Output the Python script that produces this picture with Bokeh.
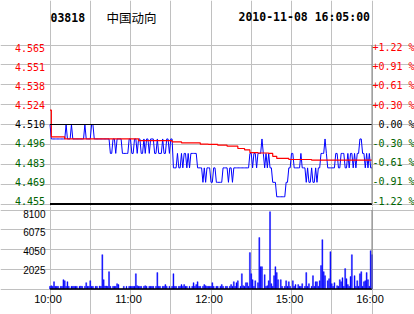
from bokeh.plotting import figure
from bokeh.models import Range1d, FixedTicker, ColumnDataSource, LabelSet, Label, Grid
from bokeh.core.properties import value, field
from bokeh.layouts import column
from bokeh.embed import file_html
from bokeh.resources import INLINE

# ---------------- data ----------------
stock_code = "03818"
stock_name = "中国动向"
stamp = "2010-11-08 16:05:00"
prev_close = 4.510

minutes = list(range(241))  # 10:00-12:30 and 14:30-16:00, one per minute

price = [
    4.51, 4.50, 4.50, 4.50, 4.50, 4.50, 4.50, 4.50, 4.50, 4.50,
    4.50, 4.50, 4.51, 4.50, 4.50, 4.50, 4.51, 4.50, 4.50, 4.50,
    4.50, 4.50, 4.50, 4.50, 4.50, 4.50, 4.51, 4.50, 4.50, 4.50,
    4.50, 4.51, 4.51, 4.50, 4.50, 4.50, 4.50, 4.50, 4.50, 4.50,
    4.50, 4.50, 4.50, 4.50, 4.50, 4.49, 4.49, 4.50, 4.50, 4.49,
    4.50, 4.50, 4.50, 4.50, 4.49, 4.49, 4.49, 4.49, 4.49, 4.50,
    4.50, 4.49, 4.49, 4.50, 4.50, 4.49, 4.50, 4.50, 4.49, 4.49,
    4.50, 4.49, 4.50, 4.50, 4.49, 4.50, 4.50, 4.50, 4.49, 4.49,
    4.50, 4.49, 4.49, 4.49, 4.50, 4.49, 4.49, 4.50, 4.50, 4.49,
    4.50, 4.50, 4.48, 4.48, 4.48, 4.49, 4.48, 4.48, 4.49, 4.48,
    4.49, 4.49, 4.48, 4.49, 4.48, 4.49, 4.49, 4.49, 4.49, 4.49,
    4.48, 4.48, 4.48, 4.48, 4.47, 4.48, 4.47, 4.48, 4.48, 4.48,
    4.47, 4.47, 4.48, 4.48, 4.47, 4.47, 4.47, 4.47, 4.47, 4.48,
    4.48, 4.48, 4.48, 4.47, 4.48, 4.48, 4.47, 4.48, 4.48, 4.48,
    4.48, 4.48, 4.48, 4.48, 4.48, 4.48, 4.48, 4.48, 4.48, 4.49,
    4.49, 4.48, 4.49, 4.49, 4.48, 4.49, 4.49, 4.49, 4.50, 4.49,
    4.48, 4.49, 4.48, 4.49, 4.48, 4.48, 4.47, 4.47, 4.47, 4.46,
    4.46, 4.46, 4.46, 4.46, 4.46, 4.46, 4.47, 4.47, 4.48, 4.48,
    4.49, 4.49, 4.48, 4.48, 4.48, 4.48, 4.48, 4.49, 4.48, 4.48,
    4.48, 4.47, 4.48, 4.47, 4.47, 4.48, 4.47, 4.47, 4.48, 4.47,
    4.48, 4.48, 4.49, 4.49, 4.49, 4.50, 4.49, 4.48, 4.48, 4.48,
    4.48, 4.48, 4.48, 4.49, 4.49, 4.48, 4.48, 4.49, 4.49, 4.49,
    4.48, 4.48, 4.49, 4.48, 4.49, 4.49, 4.48, 4.49, 4.48, 4.49,
    4.49, 4.50, 4.50, 4.49, 4.49, 4.48, 4.49, 4.48, 4.49, 4.48, 4.48,
]

volume = [
    270, 340, 270, 750, 270, 270, 270, 0, 270, 270,
    960, 850, 270, 750, 270, 0, 270, 270, 270, 270,
    270, 0, 270, 300, 270, 0, 270, 650, 270, 270,
    850, 270, 270, 0, 270, 270, 0, 300, 270, 3520,
    960, 300, 300, 270, 1780, 270, 0, 270, 270, 270,
    550, 450, 0, 0, 0, 270, 0, 270, 0, 270,
    270, 270, 270, 270, 1570, 340, 270, 270, 270, 0,
    270, 340, 270, 0, 270, 270, 270, 270, 0, 270,
    1680, 270, 270, 0, 270, 270, 450, 270, 0, 270,
    0, 270, 1570, 270, 270, 0, 270, 270, 450, 270,
    450, 270, 270, 0, 270, 0, 270, 650, 270, 450,
    750, 270, 270, 0, 270, 450, 340, 270, 270, 270,
    270, 650, 270, 0, 270, 270, 0, 270, 450, 270,
    0, 270, 270, 0, 270, 450, 270, 750, 270, 650,
    850, 0, 270, 1570, 340, 270, 650, 650, 270, 3730,
    1570, 960, 270, 850, 0, 650, 5270, 2290, 2290, 0,
    1470, 270, 340, 850, 7930, 550, 270, 1370, 2290, 1680,
    960, 0, 960, 270, 0, 270, 850, 270, 750, 270,
    0, 850, 270, 450, 0, 450, 270, 270, 550, 0,
    270, 1680, 270, 550, 0, 270, 1370, 270, 750, 750,
    270, 850, 2400, 5060, 1780, 1370, 0, 850, 1060, 3830,
    550, 270, 650, 0, 340, 270, 960, 750, 1160, 270,
    2090, 1060, 450, 270, 1270, 3520, 0, 1370, 270, 850,
    270, 1570, 1780, 270, 750, 850, 1680, 960, 270, 3930, 3520,
]

avg_minutes = [0, 1, 11, 66, 91, 98, 112, 118, 125, 132, 140, 145, 149, 155, 163, 166, 169, 178, 195, 240]
avg_values = [4.520, 4.5015, 4.5000, 4.4988, 4.4980, 4.4973, 4.4964, 4.4963, 4.4957, 4.4950,
              4.4934, 4.4925, 4.4906, 4.4903, 4.4900, 4.4880, 4.4865, 4.4858, 4.4853, 4.4853]

price_ticks = [4.455, 4.46875, 4.4825, 4.49625, 4.510, 4.52375, 4.5375, 4.55125, 4.565]
price_labels = ["4.455", "4.469", "4.483", "4.496", "4.510", "4.524", "4.538", "4.551", "4.565"]
pct_labels = ["-1.22 %", "-0.91 %", "-0.61 %", "-0.30 %", "0.00 %",
              "+0.30 %", "+0.61 %", "+0.91 %", "+1.22 %"]

vol_ticks = [2025, 4050, 6075, 8100]
vol_labels = ["2025", "4050", "6075", "8100"]
grid_minutes = [0, 30, 60, 90, 120, 150, 180, 210, 240]
time_ticks = [0, 60, 120, 180, 240]
time_labels = ["10:00", "11:00", "12:00", "15:00", "16:00"]

# ---------------- styles / layout ----------------
UP = "#FF0000"
DOWN = "#006400"
FLAT = "#000000"
GRID = "#C0C0C0"
EDGE = "#808080"
MONO = "DejaVu Sans Mono"
SANS = "Liberation Sans"

W = 414
H1, H2 = 206, 108
PX_L, PX_R = 49.5, 371.5       # pixel columns of first / last minute
PY_T, PY_B = 44.5, 203.5       # price panel rows (in figure 1)
VY_T, VY_B = 3.5, 82.5         # volume panel rows (in figure 2)

t0, t1 = minutes[0], minutes[-1]
pmin, pmax = price_ticks[0], price_ticks[-1]
vmax = vol_ticks[-1]
mpp = (t1 - t0) / (PX_R - PX_L)       # minutes per pixel
ppp = (pmax - pmin) / (PY_B - PY_T)   # price per pixel
vpp = vmax / (VY_B - VY_T)            # volume per pixel

def px_x(px):
    return t0 + (px - PX_L) * mpp

def px_y(py):
    return pmax - (py - PY_T) * ppp

def px_v(py):
    return vmax - (py - VY_T) * vpp

def tick_color(v):
    if abs(v - prev_close) < 1e-9:
        return FLAT
    return UP if v > prev_close else DOWN

colors = [tick_color(v) for v in price_ticks]
n = len(price_ticks)
y_offs = [3.0 - 5.5 * i / (n - 1) for i in range(n)]
vol_yoffs = [-1, -1, -2, -4]

def bare(p):
    p.outline_line_color = None
    return p

# ---------------- price panel ----------------
p1 = bare(figure(width=W, height=H1, x_range=Range1d(px_x(0), px_x(W)), y_range=Range1d(px_y(H1), px_y(0)),
                 x_axis_type=None, y_axis_type=None,
                 output_backend="svg", toolbar_location=None, min_border=0,
                 background_fill_color="white", border_fill_color="white"))
p1.add_layout(Grid(dimension=0, ticker=FixedTicker(ticks=grid_minutes), bounds=(pmin, pmax),
                   grid_line_color=GRID, grid_line_width=1))
p1.add_layout(Grid(dimension=1, ticker=FixedTicker(ticks=price_ticks), bounds=(t0, t1),
                   grid_line_color=GRID, grid_line_width=1))

p1.line(minutes, price, line_color="#0000FF", line_width=1)
p1.step(avg_minutes, avg_values, mode="after", line_color="#FF0000", line_width=1.2)

p1.segment(x0=[t0], y0=[prev_close], x1=[t1], y1=[prev_close], line_color="black", line_width=1.2)
p1.segment(x0=[t0], y0=[pmin], x1=[t1], y1=[pmin], line_color="black", line_width=2)
p1.segment(x0=[t1], y0=[pmin], x1=[t1], y1=[pmax], line_color=EDGE, line_width=1)

left_src = ColumnDataSource(dict(x=[t0] * n, y=price_ticks, text=price_labels, color=colors, yo=y_offs))
p1.add_layout(LabelSet(x="x", y="y", text="text", source=left_src, text_color=field("color"),
                       text_align="right", text_baseline="middle", x_offset=-5, y_offset=field("yo"),
                       text_font=value(MONO), text_font_size=value("10px")))

r_xo = [0.5 if s[0] in "+-" else 6.5 for s in pct_labels]
right_src = ColumnDataSource(dict(x=[t1] * n, y=price_ticks, text=pct_labels, color=colors, yo=y_offs, xo=r_xo))
p1.add_layout(LabelSet(x="x", y="y", text="text", source=right_src, text_color=field("color"),
                       text_align="left", text_baseline="middle", x_offset=field("xo"), y_offset=field("yo"),
                       text_font=value(MONO), text_font_size=value("10px")))

# header
p1.add_layout(Label(x=px_x(50), y=px_y(16.5), text=stock_code,
                    text_font=MONO, text_font_style="bold", text_font_size="11.5px",
                    text_baseline="middle", text_color="black"))
p1.add_layout(Label(x=px_x(106), y=px_y(16.5), text=stock_name,
                    text_font="Noto Sans CJK SC", text_font_size="12.5px",
                    text_baseline="middle", text_color="black"))
p1.add_layout(Label(x=px_x(238), y=px_y(16.5), text=stamp,
                    text_font=MONO, text_font_style="bold", text_font_size="11.5px",
                    text_baseline="middle", text_color="black"))

# ---------------- volume panel ----------------
p2 = bare(figure(width=W, height=H2, x_range=Range1d(px_x(0), px_x(W)), y_range=Range1d(px_v(H2), px_v(0)),
                 x_axis_type=None, y_axis_type=None,
                 output_backend="svg", toolbar_location=None, min_border=0,
                 background_fill_color="white", border_fill_color="white"))
p2.add_layout(Grid(dimension=0, ticker=FixedTicker(ticks=grid_minutes), bounds=(0, vmax),
                   grid_line_color=GRID, grid_line_width=1))
p2.add_layout(Grid(dimension=1, ticker=FixedTicker(ticks=[0] + vol_ticks), bounds=(t0, t1),
                   grid_line_color=GRID, grid_line_width=1))

p2.vbar(x=minutes, top=volume, width=0.75, fill_color="#0000FF", line_color="#0000FF", line_width=0.4)

p2.segment(x0=[t0], y0=[0], x1=[t1], y1=[0], line_color="black", line_width=1.5)
p2.segment(x0=[t1], y0=[0], x1=[t1], y1=[vmax], line_color=EDGE, line_width=1)

k = len(vol_ticks)
vol_src = ColumnDataSource(dict(x=[t0] * k, y=vol_ticks, text=vol_labels, yo=vol_yoffs))
p2.add_layout(LabelSet(x="x", y="y", text="text", source=vol_src, text_color="black",
                       text_align="right", text_baseline="middle", x_offset=-4.5, y_offset=field("yo"),
                       text_font=value(SANS), text_font_size=value("10px")))

m = len(time_ticks)
time_src = ColumnDataSource(dict(x=time_ticks, y=[0] * m, text=time_labels))
p2.add_layout(LabelSet(x="x", y="y", text="text", source=time_src, text_color="black",
                       text_align="center", text_baseline="middle", x_offset=-2, y_offset=-10,
                       text_font=value(SANS), text_font_size=value("11px")))

layout = column(p1, p2, spacing=0)
open("out.html", "w").write(file_html(layout, INLINE))
